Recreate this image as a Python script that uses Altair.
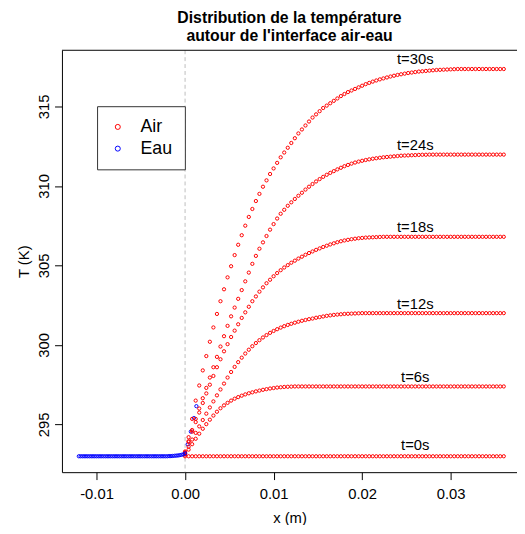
import altair as alt
import pandas as pd

# ---------------- data ----------------
# uniform sampling grid of the air side (m)
X_AIR = [round(i * 0.0004, 4) for i in range(91)]

T_0S = [293.0] * 91
T_6S = [293.1, 293.42, 293.76, 294.1, 294.42, 294.73, 295.02, 295.3, 295.56, 295.8,
        296.02, 296.2, 296.36, 296.5, 296.62, 296.72, 296.81, 296.89, 296.96, 297.02,
        297.08, 297.13, 297.18, 297.22, 297.26, 297.29, 297.32, 297.34, 297.36, 297.37,
        297.38] + [297.39] * 60
T_12S = [293.15, 293.6, 294.05, 294.47, 294.88, 295.28, 295.68, 296.07, 296.45, 296.83,
         297.2, 297.57, 297.95, 298.3, 298.62, 298.92, 299.2, 299.46, 299.7, 299.92,
         300.12, 300.3, 300.47, 300.62, 300.76, 300.88, 300.99, 301.09, 301.18, 301.26,
         301.33, 301.4, 301.46, 301.52, 301.57, 301.62, 301.66, 301.71, 301.75, 301.79,
         301.83, 301.86, 301.89, 301.91, 301.93, 301.95, 301.96, 301.97, 301.98, 301.99] + [302.0] * 41
T_18S = [293.2, 293.9, 294.55, 295.15, 295.75, 296.35, 296.95, 297.5, 298.05, 298.6,
         299.1, 299.6, 300.05, 300.5, 300.9, 301.3, 301.7, 302.05, 302.4, 302.75,
         303.05, 303.35, 303.62, 303.88, 304.1, 304.32, 304.52, 304.7, 304.87, 305.02,
         305.17, 305.3, 305.43, 305.55, 305.67, 305.78, 305.88, 305.98, 306.07, 306.16,
         306.24, 306.32, 306.39, 306.46, 306.52, 306.57, 306.61, 306.65, 306.68, 306.71,
         306.73, 306.75, 306.76, 306.77, 306.78, 306.79] + [306.8] * 35
T_24S = [293.25, 293.95, 294.65, 295.35, 296.0, 296.65, 297.3, 297.95, 298.6, 299.25,
         299.9, 300.55, 301.2, 301.8, 302.35, 302.9, 303.45, 304.0, 304.55, 305.1,
         305.6, 306.05, 306.45, 306.85, 307.25, 307.6, 307.95, 308.25, 308.5, 308.75,
         308.97, 309.18, 309.38, 309.57, 309.77, 309.95, 310.12, 310.28, 310.43, 310.57,
         310.7, 310.82, 310.93, 311.04, 311.14, 311.24, 311.32, 311.4, 311.47, 311.53,
         311.58, 311.63, 311.67, 311.71, 311.74, 311.77, 311.8, 311.82, 311.84, 311.86,
         311.88, 311.9, 311.91, 311.92, 311.93, 311.94, 311.95, 311.96, 311.96, 311.97] + [311.97] * 21
T_30S = [293.3, 294.2, 295.35, 296.5, 297.45, 298.4, 299.3, 300.2, 301.1, 301.95,
         302.75, 303.5, 304.25, 304.95, 305.65, 306.3, 306.9, 307.5, 308.05, 308.55,
         309.05, 309.5, 309.95, 310.35, 310.75, 311.1, 311.45, 311.8, 312.1, 312.4,
         312.7, 313.0, 313.3, 313.55, 313.8, 314.05, 314.3, 314.5, 314.7, 314.9,
         315.05, 315.2, 315.35, 315.5, 315.65, 315.78, 315.9, 316.0, 316.1, 316.2,
         316.3, 316.4, 316.48, 316.56, 316.63, 316.7, 316.76, 316.82, 316.88, 316.93,
         316.98, 317.02, 317.06, 317.1, 317.13, 317.16, 317.19, 317.21, 317.23, 317.25,
         317.27, 317.29, 317.3, 317.31, 317.32, 317.33, 317.34] + [317.35] * 14

# water side (m), uniform grid from -0.012 to 0
X_EAU = [round(-0.012 + i * 0.0002, 4) for i in range(61)]
T_EAU = [293.0] * 51 + [293.01, 293.01, 293.02, 293.03, 293.04, 293.05, 293.07, 293.09, 293.12, 293.18]
# a few water points that spill just past the interface (drawn under the air points)
X_EAU_BORD = [0.0003, 0.00065, 0.001, 0.00128]
T_EAU_BORD = [293.75, 294.55, 295.4, 296.15]

LABELS = ["t=0s", "t=6s", "t=12s", "t=18s", "t=24s", "t=30s"]
LABEL_X = [0.026, 0.026, 0.026, 0.026, 0.026, 0.026]
LABEL_T = [293.7, 297.96, 302.6, 307.4, 312.6, 318.0]

X_TICKS = [-0.01, 0.0, 0.01, 0.02, 0.03]
Y_TICKS = [295, 300, 305, 310, 315]

# ---------------- tables ----------------
rows = []
for xv, tv in zip(X_EAU_BORD, T_EAU_BORD):
    rows.append({"x": xv, "T": tv, "milieu": "Eau"})
for curve in [T_0S, T_6S, T_12S, T_18S, T_24S, T_30S]:
    for xv, tv in zip(X_AIR, curve):
        rows.append({"x": xv, "T": tv, "milieu": "Air"})
for xv, tv in zip(X_EAU, T_EAU):
    rows.append({"x": xv, "T": tv, "milieu": "Eau"})
pts = pd.DataFrame(rows)
labels = pd.DataFrame({"x": LABEL_X, "T": LABEL_T, "lab": LABELS})
zero = pd.DataFrame({"x": [0.0]})

FONT = "Liberation Sans"
W, H = 461.3, 427.7

xs = alt.Scale(domain=[-0.013905, 0.037493], nice=False, zero=False)
ys = alt.Scale(domain=[292.0, 318.53], nice=False, zero=False)
x_axis = alt.Axis(values=X_TICKS, title="x (m)",
                  labelExpr="datum.value < 0 ? '-' + format(-datum.value, '.2f') : format(datum.value, '.2f')",
                  labelPadding=7, titleY=46, titleBaseline="middle")
y_axis = alt.Axis(values=Y_TICKS, title="T (K)", labelAngle=270, labelAlign="center",
                  labelBaseline="bottom", labelPadding=3, titleX=-39, titleBaseline="middle",
                  titleAngle=270)

X = alt.X("x:Q", scale=xs, axis=x_axis)
Y = alt.Y("T:Q", scale=ys, axis=y_axis)

dash = alt.Chart(zero).mark_rule(color="#BEBEBE", strokeDash=[4, 3], strokeWidth=1).encode(x=X)
top = alt.Chart(zero).mark_rule(color="black", strokeWidth=1).encode(
    y=alt.value(0), x=alt.value(0), x2=alt.value(W))

points = alt.Chart(pts).mark_point(filled=False, size=11, strokeWidth=1, opacity=1).encode(
    x=X, y=Y,
    color=alt.Color("milieu:N",
                    scale=alt.Scale(domain=["Air", "Eau"], range=["#FF0000", "#0000FF"]),
                    legend=alt.Legend(title=None, orient="none", legendX=35.6, legendY=56.7,
                                      strokeColor="#333333", fillColor="white", padding=12,
                                      labelFontSize=18, labelFont=FONT, labelColor="black",
                                      symbolSize=26, symbolStrokeWidth=1, symbolType="circle",
                                      labelOffset=14, rowPadding=4, cornerRadius=0)))

texts = alt.Chart(labels).mark_text(fontSize=15, font=FONT, color="black",
                                    align="center", baseline="middle").encode(
    x=X, y=Y, text="lab:N")

chart = alt.layer(dash, top, points, texts).properties(
    width=W, height=H,
    title=alt.TitleParams(["Distribution de la température", "autour de l'interface air-eau"],
                          fontSize=16, font=FONT, fontWeight="bold", color="black",
                          anchor="middle", offset=6, lineHeight=18.5),
    padding={"left": 54.7, "top": 39.3, "right": 0, "bottom": 50},
    autosize=alt.AutoSizeParams(type="none"),
).configure_view(stroke=None).configure_axis(
    domainColor="black", domainWidth=1, tickColor="black", tickWidth=1, tickSize=7.5,
    labelColor="black", titleColor="black", labelFont=FONT, titleFont=FONT,
    labelFontSize=15, titleFontSize=15, titleFontWeight="normal", grid=False,
)

chart.save("out.html", embed_options={"renderer": "svg", "actions": False})
